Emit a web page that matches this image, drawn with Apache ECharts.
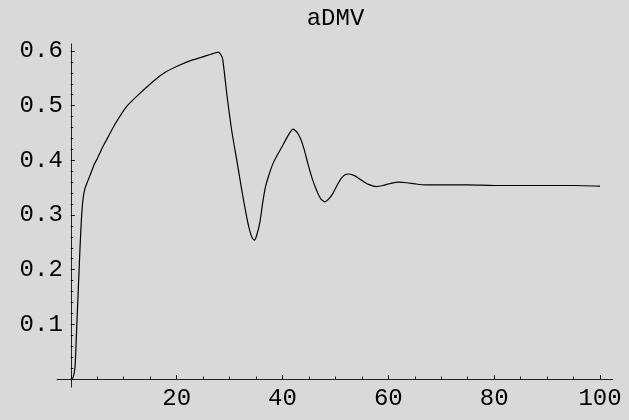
<!DOCTYPE html>
<html>
<head>
<meta charset="utf-8">
<script src="https://cdn.jsdelivr.net/npm/echarts@6/dist/echarts.min.js"></script>
<style>
  html, body { margin: 0; padding: 0; background: #d9d9d9; }
  #chart { width: 629px; height: 420px; }
</style>
</head>
<body>
<div id="chart"></div>
<script>
// aDMV response over time
const titleText = 'aDMV';

const tValues = [
  0, 0.4, 0.8, 1.1, 1.4, 1.75, 2.05, 2.35, 2.7, 3.2, 3.7, 4.4, 5, 6, 7, 8.4,
  10.5, 13, 16, 18, 20.5, 22.5, 24.5, 26.5, 27.85, 28.3, 28.7, 29.5, 30.4,
  31.4, 32.3, 33.2, 33.8, 34.3, 34.7, 35.1, 35.7, 36.3, 36.8, 37.5, 38.2,
  39.1, 40.1, 41.1, 42.0, 42.7, 43.4, 44.1, 44.8, 45.6, 46.4, 47.2, 48.0,
  48.8, 49.5, 50.3, 51.1, 51.9, 52.6, 53.6, 54.6, 55.5, 56.5, 57.7, 59,
  60.5, 62, 63.5, 65, 67, 70, 75, 80, 85, 90, 95, 100
];

const admvValues = [
  0, 0.002, 0.022, 0.09, 0.16, 0.242, 0.30, 0.332, 0.349, 0.362, 0.374, 0.392,
  0.403, 0.424, 0.442, 0.467, 0.498, 0.522, 0.548, 0.562, 0.574, 0.582, 0.588,
  0.594, 0.598, 0.594, 0.585, 0.52, 0.455, 0.398, 0.346, 0.298, 0.272, 0.258,
  0.254, 0.262, 0.285, 0.325, 0.352, 0.375, 0.394, 0.411, 0.428, 0.446, 0.457,
  0.452, 0.44, 0.42, 0.394, 0.367, 0.346, 0.330, 0.324, 0.330, 0.339, 0.354,
  0.367, 0.374, 0.375, 0.372, 0.366, 0.36, 0.355, 0.352, 0.354, 0.358, 0.360,
  0.359, 0.357, 0.355, 0.355, 0.355, 0.354, 0.354, 0.354, 0.354, 0.353
];

const xTickLabels = ['20', '40', '60', '80', '100'];
const yTickLabels = ['0.1', '0.2', '0.3', '0.4', '0.5', '0.6'];

const FONT = 'Liberation Mono';
const FONT_SIZE = 24;
const INK = '#000000';

const chart = echarts.init(document.getElementById('chart'), null, { renderer: 'canvas' });

const points = tValues.map((t, i) => [t, admvValues[i]]);

function showListed(list) {
  return function (v) {
    const s = String(Math.round(v * 1000) / 1000);
    return list.indexOf(s) >= 0 ? s : '';
  };
}

chart.setOption({
  backgroundColor: '#d9d9d9',
  animation: false,
  graphic: [{
    type: 'text',
    x: 335.5,
    y: 19,
    style: {
      text: titleText,
      font: FONT_SIZE + 'px "' + FONT + '"',
      fill: INK,
      align: 'center',
      verticalAlign: 'middle'
    }
  }],
  grid: [
    // axis lines, slightly overhanging the plotted range
    { left: 57.0, right: 16.3, top: 43.9, bottom: 32.8 },
    // ticks, labels and curve
    { left: 70.8, right: 29, top: 51.0, bottom: 41 }
  ],
  xAxis: [
    {
      gridIndex: 0, type: 'value', min: -2.6, max: 102.4,
      axisLine: { show: true, onZero: true, lineStyle: { color: '#222', width: 1 } },
      axisTick: { show: false }, axisLabel: { show: false }, splitLine: { show: false }
    },
    {
      gridIndex: 1, type: 'value', min: 0, max: 100, interval: 20,
      axisLine: { show: false },
      axisTick: { show: true, inside: true, length: 4, lineStyle: { color: '#111', width: 1 } },
      minorTick: { show: true, splitNumber: 4, length: 2.5, lineStyle: { color: '#111', width: 1 } },
      axisLabel: {
        show: true, margin: 8, color: INK, fontFamily: FONT, fontSize: FONT_SIZE,
        formatter: showListed(xTickLabels)
      },
      splitLine: { show: false }, minorSplitLine: { show: false }
    }
  ],
  yAxis: [
    {
      gridIndex: 0, type: 'value', min: -0.015, max: 0.613,
      axisLine: { show: true, onZero: true, lineStyle: { color: '#222', width: 1 } },
      axisTick: { show: false }, axisLabel: { show: false }, splitLine: { show: false }
    },
    {
      gridIndex: 1, type: 'value', min: 0, max: 0.6, interval: 0.1,
      axisLine: { show: false },
      axisTick: { show: true, inside: true, length: 4, lineStyle: { color: '#111', width: 1 } },
      minorTick: { show: true, splitNumber: 5, length: 2.5, lineStyle: { color: '#111', width: 1 } },
      axisLabel: {
        show: true, margin: 8, color: INK, fontFamily: FONT, fontSize: FONT_SIZE,
        formatter: showListed(yTickLabels)
      },
      splitLine: { show: false }, minorSplitLine: { show: false }
    }
  ],
  series: [{
    type: 'line',
    xAxisIndex: 1,
    yAxisIndex: 1,
    data: points,
    showSymbol: false,
    smooth: 0.2,
    clip: false,
    lineStyle: { color: '#000', width: 1.2 }
  }]
});
</script>
</body>
</html>
